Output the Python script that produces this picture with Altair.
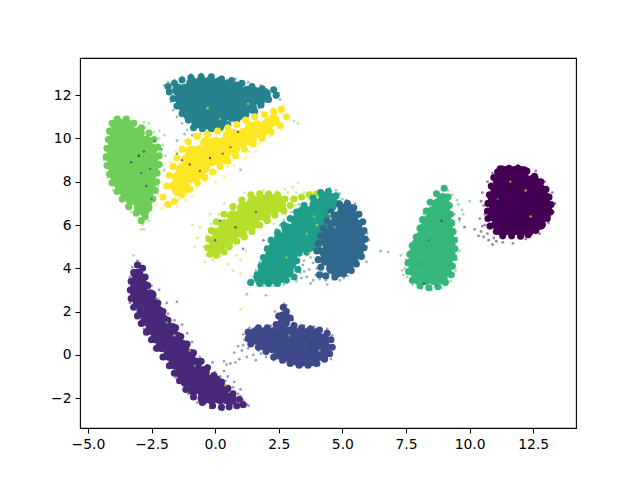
import altair as alt
import pandas as pd

# dense body of each digit cluster, estimated (x, y) readings
core_0 = [(11.4,8.45),(11.75,8.45),(12.1,8.45),
 (11.15,8.05),(11.5,8.05),(11.85,8.05),(12.2,8.05),(12.5,8.05),
 (11.05,7.65),(11.4,7.65),(11.75,7.65),(12.1,7.65),(12.45,7.65),(12.75,7.65),
 (10.95,7.25),(11.3,7.25),(11.65,7.25),(12.0,7.25),(12.35,7.25),(12.7,7.25),(12.95,7.25),
 (11.0,6.85),(11.35,6.85),(11.7,6.85),(12.05,6.85),(12.4,6.85),(12.75,6.85),(13.0,6.85),
 (10.95,6.45),(11.3,6.45),(11.65,6.45),(12.0,6.45),(12.35,6.45),(12.7,6.45),(12.95,6.45),
 (11.1,6.05),(11.45,6.05),(11.8,6.05),(12.15,6.05),(12.5,6.05),(12.75,6.05),
 (11.3,5.75),(11.65,5.75),(12.0,5.75),(12.3,5.75)]
core_1 = [(-3.05,3.7),(-2.95,3.5),(-3.1,3.2),(-2.85,3.2),
 (-3.1,2.8),(-2.8,2.8),(-2.55,2.75),(-3.0,2.4),(-2.7,2.4),(-2.45,2.35),
 (-2.85,2.0),(-2.55,2.0),(-2.25,2.0),(-2.7,1.6),(-2.4,1.6),(-2.05,1.6),
 (-2.5,1.2),(-2.2,1.2),(-1.85,1.2),(-1.7,1.2),(-2.3,0.8),(-2.0,0.8),(-1.65,0.8),(-1.5,0.8),
 (-2.1,0.4),(-1.8,0.4),(-1.45,0.4),(-1.25,0.4),(-1.8,0.0),(-1.5,0.0),(-1.15,0.0),(-1.0,0.0),
 (-1.6,-0.4),(-1.3,-0.4),(-0.95,-0.4),(-0.75,-0.4),(-1.35,-0.8),(-1.05,-0.8),(-0.7,-0.8),(-0.45,-0.8),
 (-1.15,-1.2),(-0.85,-1.2),(-0.5,-1.2),(-0.2,-1.2),(0.0,-1.2),
 (-0.85,-1.6),(-0.55,-1.6),(-0.2,-1.6),(0.1,-1.6),(0.3,-1.6),
 (-0.45,-2.0),(-0.15,-2.0),(0.2,-2.0),(0.45,-2.0),(0.6,-2.05)]
core_2 = [(2.7,1.75),(2.7,1.5),
 (1.6,1.0),(1.95,1.0),(2.3,1.0),(2.65,1.1),(3.0,1.05),(3.35,1.0),(3.7,1.0),(3.95,0.95),
 (1.55,0.75),(1.85,0.75),(2.2,0.75),(2.55,0.75),(2.9,0.75),(3.25,0.75),(3.6,0.75),(3.95,0.75),(4.25,0.7),
 (1.9,0.5),(2.25,0.35),(2.6,0.35),(2.95,0.35),(3.3,0.35),(3.65,0.35),(4.0,0.35),(4.3,0.35),
 (2.55,0.05),(2.9,-0.05),(3.25,-0.05),(3.6,-0.05),(3.95,-0.05),(4.2,0.0),
 (3.1,-0.2),(3.45,-0.25),(3.8,-0.25)]
core_3 = [(5.05,6.7),(5.3,6.7),(4.8,6.35),(5.1,6.4),(5.4,6.4),
 (4.65,6.0),(4.95,6.0),(5.3,6.0),(5.55,6.0),(4.5,5.6),(4.8,5.6),(5.15,5.6),(5.5,5.6),(5.65,5.6),
 (4.4,5.2),(4.7,5.2),(5.05,5.2),(5.4,5.2),(5.65,5.2),(4.3,4.8),(4.65,4.8),(5.0,4.8),(5.35,4.8),(5.6,4.8),
 (4.35,4.4),(4.75,4.4),(5.1,4.4),(5.4,4.4),(4.6,4.0),(4.95,4.0),(5.2,4.05),(4.8,3.85)]
core_4 = [(-0.9,12.55),(-0.55,12.6),(-0.2,12.6),(0.15,12.55),(0.5,12.45),(0.85,12.35),
 (-1.45,12.25),(-1.2,12.25),(-0.85,12.25),(-0.5,12.25),(-0.15,12.25),(0.2,12.25),(0.55,12.25),(0.9,12.2),(1.25,12.15),(1.6,12.1),(1.95,12.05),
 (-1.35,11.85),(-1.0,11.85),(-0.65,11.85),(-0.3,11.85),(0.05,11.85),(0.4,11.85),(0.75,11.85),(1.1,11.85),(1.45,11.8),(1.75,11.8),
 (-1.2,11.45),(-0.9,11.45),(-0.55,11.45),(-0.2,11.45),(0.15,11.45),(0.5,11.45),(0.85,11.45),(1.2,11.45),(1.4,11.45),
 (-1.0,11.05),(-0.75,11.05),(-0.4,11.05),(-0.05,11.05),(0.3,11.05),(0.65,11.05),(0.9,11.1),
 (-0.7,10.75),(-0.35,10.7),(0.0,10.7),(0.25,10.75)]
core_5 = [(4.3,7.25),(4.55,7.2),(3.95,6.95),(4.2,7.0),(4.55,6.9),
 (3.45,6.6),(3.75,6.6),(4.1,6.6),(4.45,6.6),(3.2,6.2),(3.55,6.2),(3.9,6.2),(4.25,6.2),
 (2.85,5.8),(3.1,5.8),(3.45,5.8),(3.8,5.8),(4.1,5.8),(2.55,5.4),(2.8,5.4),(3.15,5.4),(3.5,5.4),(3.85,5.4),
 (2.35,5.0),(2.65,5.0),(3.0,5.0),(3.35,5.0),(3.65,5.0),(2.2,4.6),(2.5,4.6),(2.85,4.6),(3.0,4.6),
 (2.05,4.2),(2.35,4.2),(2.7,4.2),(2.95,4.2),(1.9,3.8),(2.2,3.8),(2.55,3.8),(2.85,3.85),
 (1.75,3.55),(1.95,3.55),(2.3,3.55),(2.6,3.6),(3.95,5.05),(4.2,5.4),(4.35,5.9)]
core_6 = [(8.95,7.2),(8.75,6.95),(9.0,6.95),(8.55,6.6),(8.85,6.65),(9.0,6.65),(8.45,6.25),(8.7,6.3),(9.05,6.3),
 (8.3,5.9),(8.6,5.9),(8.95,5.9),(9.1,5.9),(8.15,5.5),(8.45,5.5),(8.8,5.5),(9.15,5.5),
 (7.95,5.1),(8.3,5.1),(8.65,5.1),(9.0,5.1),(9.2,5.1),(7.85,4.7),(8.2,4.7),(8.55,4.7),(8.9,4.7),(9.2,4.7),
 (7.8,4.3),(8.1,4.3),(8.45,4.3),(8.8,4.3),(9.1,4.3),(7.8,3.9),(8.05,3.9),(8.4,3.9),(8.75,3.9),(9.05,3.9),
 (7.95,3.55),(8.25,3.5),(8.6,3.5),(8.9,3.55)]
core_7 = [(-3.8,10.65),(-3.5,10.65),(-3.95,10.3),(-3.65,10.3),(-3.3,10.3),(-3.0,10.25),
 (-4.0,9.9),(-3.7,9.9),(-3.35,9.9),(-3.0,9.9),(-2.7,9.85),(-4.05,9.5),(-3.75,9.5),(-3.4,9.5),(-3.05,9.5),(-2.7,9.5),(-2.5,9.5),
 (-4.05,9.1),(-3.75,9.1),(-3.4,9.1),(-3.05,9.1),(-2.7,9.1),(-2.45,9.1),(-4.0,8.7),(-3.7,8.7),(-3.35,8.7),(-3.0,8.7),(-2.65,8.7),(-2.45,8.7),
 (-3.9,8.3),(-3.6,8.3),(-3.25,8.3),(-2.9,8.3),(-2.55,8.3),(-3.75,7.9),(-3.45,7.9),(-3.1,7.9),(-2.75,7.9),(-2.55,7.9),
 (-3.5,7.5),(-3.3,7.5),(-2.95,7.5),(-2.65,7.5),(-3.3,7.2),(-3.0,7.1),(-2.7,7.1),(-2.95,6.8),(-2.8,6.7)]
core_8 = [(1.5,7.1),(1.85,7.15),(2.2,7.15),(2.5,7.1),(1.1,6.8),(1.3,6.8),(1.65,6.8),(2.0,6.8),(2.3,6.75),(2.55,6.9),
 (0.7,6.4),(0.9,6.4),(1.25,6.4),(1.6,6.4),(1.95,6.45),(0.35,6.0),(0.55,6.0),(0.9,6.0),(1.25,6.0),(1.45,6.05),
 (0.1,5.6),(0.35,5.6),(0.7,5.6),(1.0,5.7),(0.0,5.2),(0.25,5.2),(0.5,5.3),(0.0,4.9),(0.15,4.95)]
core_9 = [(2.3,10.85),(2.05,10.65),(1.4,10.5),(1.65,10.55),(2.0,10.55),
 (0.55,10.15),(0.75,10.15),(1.1,10.2),(1.4,10.25),(-0.35,9.8),(0.0,9.8),(0.35,9.8),(0.7,9.75),(1.05,9.85),
 (-0.95,9.4),(-0.65,9.4),(-0.3,9.4),(0.05,9.4),(0.4,9.35),(-1.1,9.0),(-0.85,9.0),(-0.5,9.0),(-0.15,9.0),(0.05,9.05),
 (-1.3,8.6),(-1.05,8.6),(-0.7,8.6),(-0.45,8.65),(-1.45,8.2),(-1.25,8.2),(-0.95,8.25),(-1.55,7.8),(-1.3,7.9),
 (-1.0,8.2),(-0.7,8.35),(-1.45,7.6),(0.35,9.1),(1.4,9.95),(1.8,10.25),(-1.2,7.75),(0.75,9.55)]

# narrow rim of each cluster, estimated (x, y) readings
rim_0 = [(11.2,8.6),(11.55,8.62),(11.9,8.62),(12.25,8.5),(12.55,8.25),(12.8,8.0),(13.0,7.65),(13.12,7.3),(13.2,6.95),(13.17,6.6),(13.05,6.3),(12.85,6.0),(12.6,5.75),(12.3,5.55),(12.0,5.48),(11.65,5.5),(11.3,5.5),(11.05,5.7),(10.8,5.95),(10.72,6.3),(10.7,6.65),(10.72,7.0),(10.78,7.4),(10.85,7.8),(10.95,8.2),(11.1,8.45)]
rim_1 = [(-3.05,4.15),(-3.2,3.8),(-3.3,3.4),(-3.33,3.0),(-3.3,2.6),(-3.2,2.2),(-3.05,1.8),(-2.9,1.45),(-2.7,1.05),(-2.5,0.7),(-2.3,0.3),(-2.05,-0.1),(-1.8,-0.5),(-1.6,-0.85),(-1.4,-1.2),(-1.15,-1.6),(-0.85,-1.95),(-0.5,-2.2),(-0.1,-2.35),(0.25,-2.42),(0.55,-2.4),(0.85,-2.35),(1.1,-2.3),(0.95,-2.05),(0.7,-1.8),(0.5,-1.55),(0.25,-1.25),(-0.05,-0.95),(-0.3,-0.6),(-0.55,-0.3),(-0.85,0.1),(-1.1,0.5),(-1.35,0.85),(-1.55,1.25),(-1.85,1.6),(-2.05,2.0),(-2.25,2.4),(-2.45,2.8),(-2.65,3.2),(-2.75,3.6),(-2.85,4.0)]
rim_2 = [(1.3,1.05),(1.3,0.75),(1.4,0.5),(1.7,0.35),(2.0,0.15),(2.3,-0.1),(2.65,-0.25),(2.95,-0.4),(3.3,-0.48),(3.65,-0.48),(4.0,-0.4),(4.3,-0.2),(4.5,0.05),(4.6,0.35),(4.55,0.7),(4.4,1.0),(4.1,1.15),(3.75,1.2),(3.4,1.25),(3.1,1.35),(2.95,1.7),(2.8,2.0),(2.68,2.2),(2.5,1.8),(2.4,1.4),(2.05,1.25),(1.7,1.25)]
rim_3 = [(4.9,6.95),(5.2,7.0),(5.45,6.8),(5.65,6.5),(5.8,6.15),(5.85,5.75),(5.9,5.35),(5.85,4.95),(5.75,4.55),(5.55,4.2),(5.35,3.9),(5.05,3.75),(4.7,3.6),(4.35,3.65),(4.1,3.7),(4.15,4.05),(4.05,4.4),(4.0,4.8),(4.05,5.15),(4.15,5.5),(4.25,5.85),(4.4,6.2),(4.55,6.6)]
rim_4 = [(-1.85,12.4),(-1.6,12.55),(-1.3,12.7),(-0.95,12.82),(-0.55,12.85),(-0.15,12.85),(0.25,12.75),(0.65,12.68),(1.05,12.55),(1.45,12.4),(1.85,12.3),(2.3,12.25),(2.4,12.0),(2.1,11.8),(1.8,11.55),(1.55,11.25),(1.2,11.1),(0.85,10.85),(0.5,10.65),(0.2,10.5),(-0.15,10.45),(-0.5,10.45),(-0.85,10.5),(-1.05,10.85),(-1.3,11.15),(-1.5,11.5),(-1.65,11.85),(-1.8,12.15)]
rim_5 = [(1.4,3.35),(1.65,3.7),(1.8,4.1),(1.9,4.5),(2.05,4.9),(2.2,5.3),(2.45,5.65),(2.7,6.0),(2.95,6.3),(3.2,6.6),(3.5,6.9),(3.85,7.25),(4.15,7.5),(4.45,7.55),(4.75,7.35),(4.85,7.0),(1.75,3.3),(2.1,3.3),(2.45,3.3),(2.8,3.45),(3.1,3.6),(3.25,3.95),(3.2,4.35),(3.3,4.7),(3.6,4.75),(3.9,5.05),(4.1,5.35)]
rim_6 = [(9.0,7.7),(9.15,7.3),(9.2,6.9),(9.25,6.5),(9.3,6.1),(9.35,5.7),(9.4,5.3),(9.42,4.9),(9.38,4.5),(9.32,4.1),(9.28,3.7),(9.05,3.35),(8.75,3.15),(8.4,3.1),(8.05,3.2),(7.75,3.45),(7.6,3.85),(7.58,4.25),(7.65,4.65),(7.75,5.05),(7.9,5.45),(8.05,5.85),(8.15,6.25),(8.3,6.65),(8.45,7.05),(8.7,7.45)]
rim_7 = [(-3.85,10.9),(-3.5,10.9),(-3.2,10.7),(-2.9,10.5),(-2.6,10.25),(-2.4,9.95),(-2.25,9.6),(-2.2,9.2),(-2.2,8.8),(-2.28,8.4),(-2.3,8.0),(-2.35,7.6),(-2.45,7.2),(-2.6,6.8),(-2.75,6.4),(-2.9,6.2),(-3.1,6.55),(-3.4,6.85),(-3.65,7.2),(-3.85,7.55),(-4.05,7.95),(-4.15,8.35),(-4.25,8.75),(-4.28,9.15),(-4.25,9.55),(-4.2,9.95),(-4.15,10.35),(-4.05,10.7)]
rim_8 = [(2.75,7.2),(2.45,7.4),(2.1,7.45),(1.75,7.45),(1.4,7.4),(1.05,7.15),(0.7,6.85),(0.35,6.5),(0.05,6.15),(-0.15,5.75),(-0.25,5.35),(-0.3,4.95),(-0.2,4.65),(0.05,4.6),(0.35,4.75),(0.55,5.0),(0.85,5.25),(1.15,5.45),(1.45,5.7),(1.75,6.0),(2.05,6.2),(2.35,6.45),(2.7,6.65),(2.95,6.9),(3.1,7.2),(3.4,7.3),(3.7,7.4),(4.0,7.45)]
rim_9 = [(-2.05,7.3),(-1.9,7.8),(-1.8,8.3),(-1.65,8.7),(-1.5,9.1),(-1.3,9.5),(-1.05,9.85),(-0.7,10.1),(-0.3,10.2),(0.1,10.35),(0.5,10.5),(0.85,10.65),(1.2,10.85),(1.55,11.0),(1.95,11.1),(2.3,11.25),(2.6,11.35),(2.8,11.0),(2.55,10.6),(2.2,10.3),(1.85,10.0),(1.5,9.75),(1.15,9.5),(0.8,9.2),(0.5,8.95),(0.2,8.7),(-0.1,8.45),(-0.4,8.2),(-0.7,7.95),(-1.0,7.65),(-1.3,7.4),(-1.6,7.1),(-1.85,6.95)]

# sparse outliers and fringe, estimated (x, y) readings
fringe_0 = [(10.5,7.5),(10.55,6.9),(10.4,6.3),(10.6,6.0),(10.2,5.8),(10.7,5.6),(10.95,5.4),(11.3,5.2),(10.35,5.5),(9.8,5.9),(9.6,6.3),(10.9,5.1),(11.7,5.15),(12.2,5.35),(12.75,5.6),(13.1,6.1),(13.3,6.6),(13.36,7.0),(13.25,7.5),(12.95,8.0),(12.6,8.5),(11.9,8.78),(11.3,8.72),(10.9,8.4),(10.7,8.0),(10.45,5.7),(10.55,5.45),(10.75,5.3),(11.05,5.25),(10.6,6.5),(10.45,7.1),(10.5,5.95)]
fringe_1 = [(-3.05,4.35),(-2.95,4.2),(-3.25,4.05),(-2.7,3.6),(-2.5,3.2),(-2.2,3.0),(-2.3,2.6),(-1.9,2.4),(-1.85,1.9),(-1.6,1.6),(-1.3,1.4),(-1.1,1.0),(-0.9,0.6),(-0.6,-0.1),(-0.3,-0.5),(0.0,-0.8),(0.2,-1.0),(0.4,-1.2),(0.7,-1.5),(0.9,-1.8),(1.1,-2.1),(1.25,-2.3),(1.32,-2.35),(0.3,-2.55),(0.55,-2.52),(-0.2,-2.45),(-0.7,-2.2),(-1.05,-1.8),(-1.55,-1.05),(-2.0,-0.2),(-2.4,0.3),(-2.8,1.2),(-3.1,1.9),(-3.35,2.4),(-3.42,3.0),(-3.35,3.6),(-1.5,2.45),(-0.9,-0.05),(-0.1,-0.35),(0.35,-0.75),(0.5,-1.0),(0.75,-1.25),(1.0,-1.6)]
fringe_2 = [(1.25,0.9),(1.15,0.7),(1.1,0.45),(1.3,0.3),(0.9,0.4),(0.75,0.1),(0.95,-0.2),(0.6,-0.4),(0.45,-0.45),(1.5,0.0),(1.8,0.05),(2.0,-0.1),(1.6,-0.25),(0.8,-0.35),(2.7,2.35),(2.8,2.3),(2.65,2.2),(2.45,1.85),(3.05,1.6),(2.2,1.35),(3.5,1.35),(3.9,1.3),(4.4,1.2),(4.6,0.9),(4.68,0.35),(4.55,-0.2),(3.6,-0.55),(3.2,-0.5),(2.8,-0.3),(1.35,1.25),(2.35,2.0),(1.05,0.2),(1.25,-0.1),(0.35,-0.3),(1.1,0.95),(1.7,0.2),(2.3,-0.25),(3.95,-0.52)]
fringe_3 = [(3.6,3.6),(3.85,3.45),(4.1,3.5),(4.35,3.45),(4.65,3.5),(4.9,3.45),(3.5,3.85),(3.7,3.95),(4.0,4.0),(4.2,3.8),(3.95,3.7),(5.2,3.65),(5.55,4.1),(5.8,4.5),(5.95,5.0),(5.97,5.6),(5.85,6.2),(5.7,6.6),(5.5,7.0),(5.15,7.15),(4.6,6.9),(4.1,5.7),(6.05,5.3),(6.5,4.8),(6.8,4.75),(5.95,4.3),(3.4,3.55),(3.75,3.3),(4.4,3.25),(3.85,4.25),(3.45,4.15),(5.05,3.55)]
fringe_4 = [(-2.0,12.45),(-1.85,12.6),(-1.6,12.7),(-1.3,12.85),(-0.95,12.95),(-0.55,12.98),(-0.1,12.95),(0.3,12.85),(0.8,12.75),(1.3,12.6),(1.8,12.45),(2.35,12.3),(2.5,12.1),(2.4,11.9),(2.0,11.7),(1.7,11.4),(1.3,11.1),(-1.5,11.0),(-1.3,10.7),(-1.1,10.4),(-0.8,10.5),(-0.3,10.3),(-1.65,11.3),(-1.75,11.7),(-1.85,12.1),(0.55,10.7),(-0.9,10.15),(-1.2,10.2),(-0.6,10.2),(2.55,11.8),(1.0,8.55),(-1.5,9.9)]
fringe_5 = [(1.3,3.3),(1.45,3.25),(1.5,3.6),(1.6,3.9),(1.75,4.3),(1.85,4.6),(2.0,5.0),(2.15,5.4),(2.4,5.8),(2.7,6.2),(3.0,6.6),(3.3,6.95),(3.7,7.3),(4.1,7.6),(4.5,7.7),(4.9,7.45),(5.0,7.2),(3.3,4.4),(3.35,3.8),(3.2,3.4),(2.7,3.25),(2.3,3.2),(1.9,3.2),(3.6,4.6),(3.8,5.1),(1.25,2.8),(2.0,2.75),(3.5,4.35),(3.75,4.5),(3.45,5.0),(2.55,6.0),(4.75,7.6)]
fringe_6 = [(9.0,7.8),(9.15,7.6),(9.3,7.4),(9.5,7.15),(9.7,6.7),(9.4,6.5),(9.6,6.2),(9.35,6.0),(9.5,5.4),(9.6,4.8),(9.5,4.4),(9.45,3.9),(9.25,3.4),(8.9,3.1),(8.5,3.0),(8.1,3.05),(7.75,3.25),(7.55,3.6),(7.45,4.0),(7.5,4.4),(7.65,5.0),(7.85,5.4),(8.05,6.0),(8.2,6.5),(8.4,7.0),(8.7,7.5),(10.0,7.1),(7.3,4.6),(7.35,3.9),(9.55,6.95),(9.75,6.5),(7.4,3.7)]
fringe_7 = [(-3.8,11.0),(-3.4,10.98),(-3.1,10.8),(-2.75,10.5),(-2.4,10.3),(-2.2,10.0),(-2.05,9.7),(-2.15,9.4),(-2.1,8.8),(-2.2,8.3),(-2.25,7.8),(-2.4,7.2),(-2.55,6.7),(-2.7,6.35),(-2.85,6.0),(-2.8,5.8),(-3.0,6.3),(-3.3,6.6),(-3.7,7.1),(-4.0,7.6),(-4.2,8.2),(-4.36,9.0),(-4.3,9.6),(-4.2,10.2),(-4.1,10.7),(-2.6,10.7),(-3.2,4.6),(3.25,10.7),(3.1,10.8),(-2.5,2.3),(-2.2,10.35),(-2.0,10.15),(-2.8,10.75),(-1.95,9.2),(-2.0,8.55),(-2.6,6.2),(-2.9,5.8)]
fringe_8 = [(3.0,7.2),(3.2,7.5),(3.4,7.2),(3.5,7.5),(3.8,7.5),(4.1,7.55),(2.95,6.85),(3.15,6.9),(3.4,7.0),(3.7,7.2),(3.05,7.75),(2.85,7.5),(2.4,7.55),(1.9,7.6),(1.4,7.45),(1.0,7.2),(0.6,6.9),(0.15,6.5),(-0.15,6.05),(-0.35,5.5),(-0.45,5.0),(-0.35,4.6),(-0.1,4.4),(0.2,4.55),(0.5,4.2),(0.7,3.9),(1.0,4.4),(-0.4,4.3),(0.65,5.05),(0.9,5.25),(1.25,5.6),(1.8,6.0),(2.3,6.05),(2.75,6.5),(1.2,4.8),(-0.9,6.0),(-0.7,5.4),(1.0,3.75),(1.55,6.55),(1.0,2.1),(3.25,7.95),(2.75,7.65),(1.15,7.5),(0.35,7.0),(-0.2,6.5),(-0.6,5.9),(-0.8,5.0),(0.85,4.6)]
fringe_9 = [(2.7,11.5),(2.6,11.15),(2.85,11.0),(2.95,10.85),(2.3,11.4),(1.8,11.2),(0.9,10.75),(0.2,10.5),(-0.3,10.3),(-0.8,10.2),(-1.2,9.9),(-1.55,9.4),(-1.75,8.9),(-2.0,8.5),(-2.15,8.0),(-2.25,7.4),(-2.3,6.95),(-2.1,6.75),(-1.8,6.9),(-1.4,7.2),(-1.1,7.45),(-0.7,7.75),(-0.4,8.0),(0.1,8.45),(0.5,8.7),(0.9,9.1),(1.35,9.4),(1.75,9.75),(2.2,10.1),(2.6,10.4),(0.35,8.2),(-0.9,7.35),(-1.5,6.85),(0.0,8.0),(-2.0,6.95),(-1.15,7.15),(0.75,8.75),(1.2,9.1),(1.6,9.4)]

# stray points of one digit lying inside another cluster
stray_x = [-1.0,-0.2,0.3,-0.6,0.6,-3.3,-2.9,-2.7,-2.5,-2.8,-3.0,-2.55,0.9,-0.3,0.2,1.3,-2.2,-1.9,-1.6,-1.0,-0.8,0.4,1.0,1.1,4.0,3.6,4.2,4.5,3.9,3.7,4.7,2.8,1.9,8.2,8.7,8.4,8.9,8.0,11.6,12.2,12.4,11.1,-2.4,-2.1,-1.5,-1.3,2.9,3.5,4.1,0.8,0.2,1.6,0.0]
stray_y = [8.8,9.1,9.3,8.5,9.6,8.9,8.4,7.8,7.2,9.4,9.2,8.6,10.3,11.4,10.9,11.6,2.6,1.5,0.9,0.2,-0.5,-1.4,-1.9,4.9,6.0,5.6,5.0,6.5,6.4,4.7,5.9,4.5,5.3,3.3,3.2,5.3,6.2,4.2,8.0,7.6,6.4,7.2,9.9,9.5,9.3,9.0,0.9,0.5,0.2,5.9,6.2,6.6,5.3]
stray_c = [1,0,2,1,3,1,2,1,2,1,0,2,1,9,8,9,8,7,9,8,7,9,5,2,9,8,9,9,8,8,7,8,2,1,4,3,1,4,8,9,9,5,3,3,4,2,7,5,8,1,2,2,1]

tick_x = [-5.0,-2.5,0.0,2.5,5.0,7.5,10.0,12.5]
tick_y = [-2,0,2,4,6,8,10,12]
palette = ["#440154","#482878","#3e4989","#31688e","#26828e","#1f9e89","#35b779","#6ece58","#b5de2b","#fde725"]

# drawing order of the classes, later classes lie on top
order = [0,1,2,8,5,3,4,9,6,7]
cores = [core_0,core_1,core_2,core_3,core_4,core_5,core_6,core_7,core_8,core_9]
rims = [rim_0,rim_1,rim_2,rim_3,rim_4,rim_5,rim_6,rim_7,rim_8,rim_9]
fringes = [fringe_0,fringe_1,fringe_2,fringe_3,fringe_4,fringe_5,fringe_6,fringe_7,fringe_8,fringe_9]

body_rows, fringe_rows = [], []
for c in order:
    body_rows += [{"x": p[0], "y": p[1], "c": str(c), "s": 150} for p in cores[c]]
    body_rows += [{"x": p[0], "y": p[1], "c": str(c), "s": 50} for p in rims[c]]
    fringe_rows += [{"x": p[0], "y": p[1], "c": str(c)} for p in fringes[c]]
df_body = pd.DataFrame(body_rows)
df_fringe = pd.DataFrame(fringe_rows)
df_stray = pd.DataFrame({"x": stray_x, "y": stray_y, "c": [str(v) for v in stray_c]})

xs = alt.Scale(domain=[-5.31, 14.18], nice=False, zero=False)
ys = alt.Scale(domain=[-3.38, 13.72], nice=False, zero=False)
cs = alt.Scale(domain=[str(i) for i in range(10)], range=palette)
axis_common = dict(grid=False, title=None, tickColor="black", tickSize=5, tickWidth=1,
                   labelColor="black", labelFont="DejaVu Sans", labelFontSize=13.9, labelPadding=4, domain=False)
x_enc = alt.X("x:Q", scale=xs, axis=alt.Axis(values=tick_x, format=".1f", labelFlush=False, **axis_common))
y_enc = alt.Y("y:Q", scale=ys, axis=alt.Axis(values=tick_y, format="d", **axis_common))
col = alt.Color("c:N", scale=cs, legend=None)

body = alt.Chart(df_body).mark_circle(opacity=1).encode(x=x_enc, y=y_enc, color=col, size=alt.Size("s:Q", scale=None, legend=None))
fr = alt.Chart(df_fringe).mark_circle(size=8, opacity=0.5).encode(x=x_enc, y=y_enc, color=col)
st = alt.Chart(df_stray).mark_circle(size=6, opacity=0.7).encode(x=x_enc, y=y_enc, color=col)

chart = alt.layer(fr, body, st).properties(
    width=496, height=370,
    autosize=alt.AutoSizeParams(type="none"),
    padding={"left": 72, "top": 50, "right": 56, "bottom": 45},
    background="white",
).configure_view(stroke="black", strokeWidth=1.1)

chart.save("out.html", embed_options={"renderer": "svg", "actions": False})
